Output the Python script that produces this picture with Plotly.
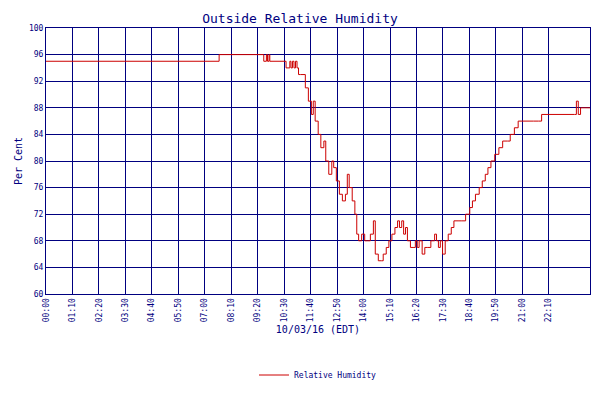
import plotly.graph_objects as go

# minutes after midnight and relative humidity (%)
minutes = [0, 458, 576, 583, 586, 590, 592, 635, 645, 648, 652, 656, 660, 664, 668,
           673, 686, 694, 702, 707, 712, 720, 727, 735, 740, 748, 756, 761, 768, 776,
           784, 792, 797, 802, 810, 817, 822, 827, 835, 843, 851, 858, 866, 871, 879,
           887, 892, 900, 907, 915, 923, 930, 935, 941, 946, 951, 956, 964, 971, 977,
           982, 987, 995, 1002, 1010, 1018, 1023, 1028, 1033, 1038, 1043, 1049, 1056,
           1064, 1072, 1079, 1090, 1100, 1110, 1121, 1128, 1136, 1146, 1154, 1162, 1169,
           1177, 1187, 1198, 1208, 1221, 1228, 1239, 1249, 1290, 1303, 1311, 1398, 1403,
           1408, 1414, 1439]
humidity = [95, 96, 95, 96, 95, 96, 95, 94, 95, 94, 95, 94, 95, 94, 93,
            93, 91, 89, 87, 89, 86, 84, 82, 83, 80, 78, 80, 79, 77, 75,
            74, 75, 78, 76, 74, 72, 69, 68, 69, 68, 68, 69, 71, 66, 65,
            65, 66, 67, 68, 69, 70, 71, 70, 71, 69, 70, 68, 67, 67, 68,
            67, 68, 66, 67, 67, 68, 68, 69, 68, 67, 68, 66, 68,
            69, 70, 71, 71, 71, 72, 73, 74, 75, 76, 77, 78, 79,
            80, 81, 82, 83, 83, 84, 85, 86, 86, 86, 87, 87, 89,
            87, 88, 88]

tick_vals = list(range(0, 1400, 70)) + [1439]
tick_text = [f"{v // 60:02d}:{v % 60:02d}" for v in tick_vals]

navy = "#000080"
font = "DejaVu Sans Mono"

fig = go.Figure(
    go.Scatter(
        x=minutes, y=humidity, mode="lines", line_shape="hv",
        line=dict(color="#cc0000", width=1), name="Relative Humidity",
    )
)
fig.update_layout(
    paper_bgcolor="white", plot_bgcolor="white",
    margin=dict(l=38, r=2, t=20, b=63),
    font=dict(family=font, color=navy, size=10),
    title=dict(text="Outside Relative Humidity", x=0.5, y=0.985, yanchor="top",
               font=dict(size=13, color=navy)),
    showlegend=True,
    legend=dict(orientation="h", x=0.5, xanchor="center", y=-0.25, yanchor="top",
                font=dict(size=8, color=navy)),
)
fig.update_xaxes(
    range=[0, 1439], tickvals=tick_vals, ticktext=tick_text, tickangle=-90,
    tickfont=dict(size=8), showgrid=True, gridcolor=navy, gridwidth=1,
    showline=True, linecolor=navy, mirror=True, zeroline=False,
    title=dict(text="10/03/16 (EDT)", font=dict(size=10), standoff=4),
)
fig.update_yaxes(
    range=[60, 100], dtick=4, tickfont=dict(size=8), showgrid=True, gridcolor=navy,
    showline=True, linecolor=navy, mirror=True, zeroline=False,
    title=dict(text="Per Cent", font=dict(size=10), standoff=4),
)
fig.write_html("out.html")
